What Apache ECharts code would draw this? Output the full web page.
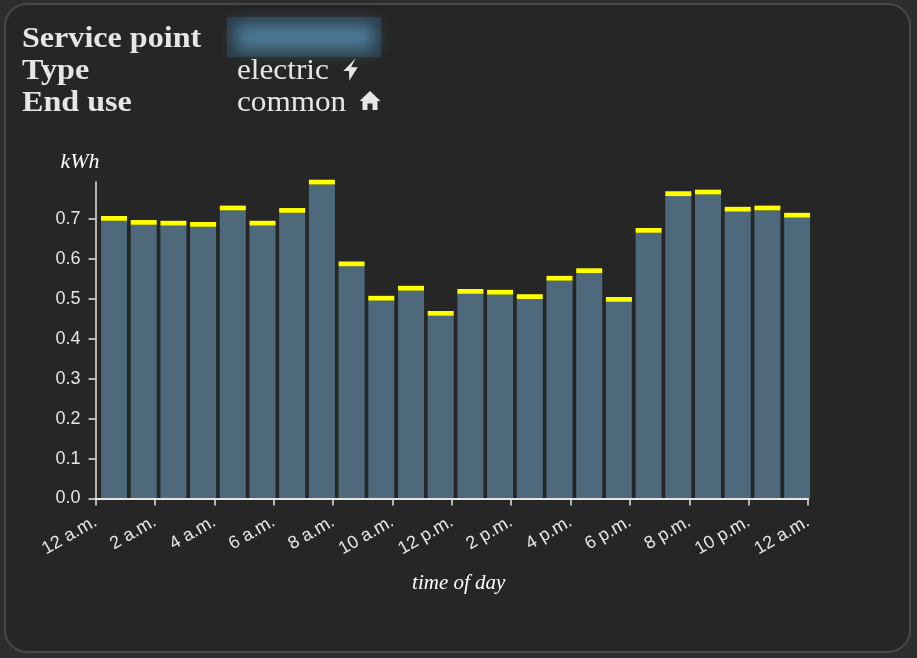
<!DOCTYPE html>
<html>
<head>
<meta charset="utf-8">
<style>html,body{margin:0;padding:0;background:#2d2d2d}#c{width:917px;height:658px}</style>
<script src="https://cdn.jsdelivr.net/npm/echarts@6/dist/echarts.min.js"></script>
</head>
<body>
<div id="c"></div>
<script>
const hours = ['1','2','3','4','5','6','7','8','9','10','11','12','13','14','15','16','17','18','19','20','21','22','23','24'];
const commonUse = [0.696,0.686,0.684,0.681,0.722,0.684,0.716,0.787,0.582,0.496,0.521,0.458,0.513,0.511,0.500,0.546,0.565,0.493,0.666,0.758,0.762,0.719,0.722,0.704];
const capUse = [0.012,0.012,0.012,0.012,0.012,0.012,0.012,0.012,0.012,0.012,0.012,0.012,0.012,0.012,0.012,0.012,0.012,0.012,0.012,0.012,0.012,0.012,0.012,0.012];
const xTickLabels = {0:'12 a.m.',2:'2 a.m.',4:'4 a.m.',6:'6 a.m.',8:'8 a.m.',10:'10 a.m.',12:'12 p.m.',14:'2 p.m.',16:'4 p.m.',18:'6 p.m.',20:'8 p.m.',22:'10 p.m.',24:'12 a.m.'};
const yTicks = [0,0.1,0.2,0.3,0.4,0.5,0.6,0.7];
const headerKeys = ['Service point','Type','End use'];
const headerValues = ['electric','common'];

const fg = '#e6e6e6';
const serif = '"Liberation Serif", serif';
const hdr = (t, x, y, bold) => ({type:'text', x, y:y-23, z:10, style:{text:t, x:0, y:0, fill:fg, font:(bold?'bold ':'')+'30px '+serif}, scaleX: bold?1.07:1.04});

const chart = echarts.init(document.getElementById('c'), null, {renderer:'canvas'});
chart.setOption({
  animation:false,
  backgroundColor:'#2d2d2d',
  graphic:[
    {type:'rect', z:-10, shape:{x:5,y:4,width:905,height:648,r:22}, style:{fill:'#262626', stroke:'#474747', lineWidth:2}},
    {type:'rect', z:-9, shape:{x:227,y:17,width:154,height:40}, style:{fill:'#2b3b46'}},
    {type:'rect', z:-8, shape:{x:1236,y:24,width:138,height:26}, style:{fill:'#4c7a98', shadowBlur:16, shadowColor:'#4d7b99', shadowOffsetX:-1000}},
    hdr(headerKeys[0],22,47,true),
    hdr(headerKeys[1],22,79,true),
    hdr(headerKeys[2],22,111,true),
    hdr(headerValues[0],237,79,false),
    hdr(headerValues[1],237,111,false),
    {type:'polygon', z:10, shape:{points:[[355.7,58.3],[343.3,71],[349,71],[349.3,80.7],[357.7,67.3],[351,67.3]]}, style:{fill:fg}},
    {type:'polygon', z:10, shape:{points:[[370,91],[359.5,101],[362.5,101],[362.5,110],[367.5,110],[367.5,103.5],[372.5,103.5],[372.5,110],[377.5,110],[377.5,101],[380.5,101]]}, style:{fill:fg}}
  ],
  grid:[
    {left:95.5, width:712.5, top:182, height:316.5},
    {left:99.15, width:712.8, top:99.5, height:399}
  ],
  xAxis:[
    {type:'value', gridIndex:0, position:'bottom', offset:3, min:0, max:24, interval:2, z:5,
     axisLine:{show:false}, splitLine:{show:false},
     axisTick:{show:true, length:7, lineStyle:{color:fg, width:1.5}},
     axisLabel:{rotate:30, margin:19, color:fg, fontSize:18, fontFamily:'"Liberation Sans", sans-serif', formatter:v=>xTickLabels[v], hideOverlap:false},
     name:'time of day', nameLocation:'middle', nameGap:71,
     nameTextStyle:{color:'#fff', fontSize:21, fontStyle:'italic', fontFamily:serif, padding:[0,0,0,14]}},
    {type:'value', gridIndex:0, position:'bottom', min:0, max:24, z:5,
     axisLine:{show:true, lineStyle:{color:fg, width:2}}, axisTick:{show:false}, axisLabel:{show:false}, splitLine:{show:false}},
    {type:'category', gridIndex:1, data:hours, show:false}
  ],
  yAxis:[
    {type:'value', gridIndex:0, min:0, max:0.793, z:5,
     axisLine:{show:true, lineStyle:{color:fg, width:1.5}}, splitLine:{show:false},
     axisTick:{show:true, length:7, customValues:yTicks, lineStyle:{color:fg, width:1.5}},
     axisLabel:{margin:15, color:fg, fontSize:18, fontFamily:'"Liberation Sans", sans-serif', customValues:yTicks, formatter:v=>v.toFixed(1)},
     name:'kWh', nameLocation:'end', nameGap:9,
     nameTextStyle:{color:'#fff', fontSize:22, fontStyle:'italic', fontFamily:serif, align:'center', padding:[0,31,0,0]}},
    {type:'value', gridIndex:1, min:0, max:1, show:false}
  ],
  series:[
    {type:'bar', name:'use', xAxisIndex:2, yAxisIndex:1, stack:'total', barWidth:26, data:commonUse, itemStyle:{color:'#4e697c'}, z:2},
    {type:'bar', name:'cap', xAxisIndex:2, yAxisIndex:1, stack:'total', barWidth:26, data:capUse, itemStyle:{color:'#ffff00'}, z:2}
  ]
});
</script>
</body>
</html>
